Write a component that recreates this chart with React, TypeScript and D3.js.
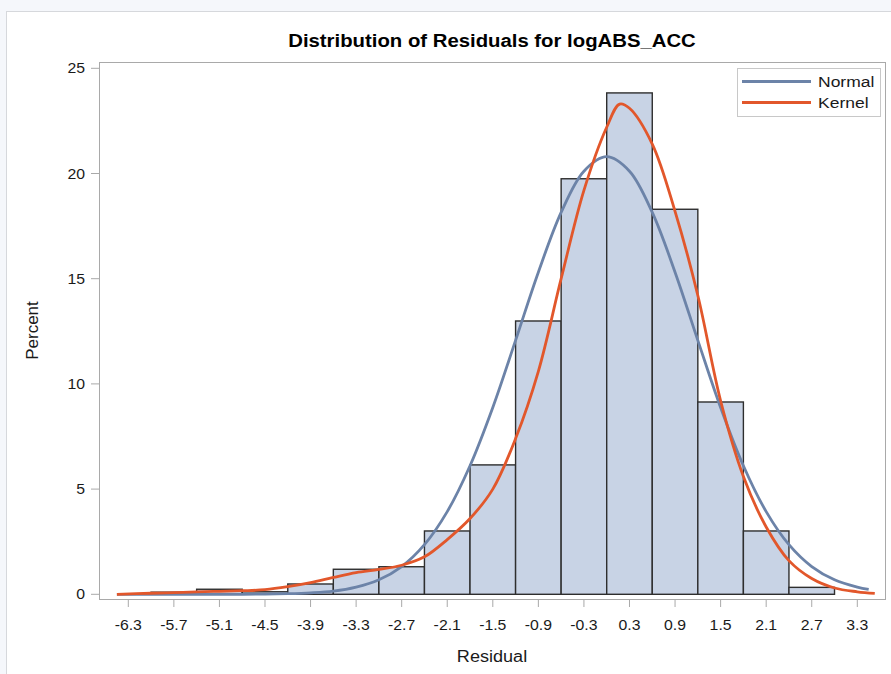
import React from "react";
import * as d3 from "d3";

// Histogram bins (midpoints) and their percentages
const binMids = [-5.7, -5.1, -4.5, -3.9, -3.3, -2.7, -2.1, -1.5, -0.9, -0.3, 0.3, 0.9, 1.5, 2.1, 2.7];
const binPct = [0.1, 0.24, 0.12, 0.49, 1.19, 1.31, 3.01, 6.15, 12.99, 19.75, 23.83, 18.3, 9.14, 3.01, 0.33];
const binWidth = 0.6;

// Fitted normal density, in percent per bin
const normalX = [-6.45, -5.4, -4.8, -4.5, -4.2, -3.9, -3.6, -3.3, -3.0, -2.7, -2.4, -2.1, -1.8, -1.5, -1.2, -0.9, -0.6, -0.3, 0.0, 0.3, 0.6, 0.9, 1.2, 1.5, 1.8, 2.1, 2.4, 2.7, 3.0, 3.3, 3.45];
const normalPct = [0.0, 0.0, 0.0, 0.01, 0.03, 0.07, 0.15, 0.34, 0.69, 1.32, 2.36, 3.93, 6.11, 8.88, 12.07, 15.31, 18.15, 20.11, 20.8, 20.11, 18.15, 15.31, 12.07, 8.88, 6.11, 3.93, 2.36, 1.32, 0.69, 0.34, 0.23];

// Kernel density estimate, in percent per bin
const kernelX = [-6.45, -6.0, -5.7, -5.4, -5.1, -4.8, -4.5, -4.2, -3.9, -3.6, -3.3, -3.0, -2.7, -2.4, -2.1, -1.8, -1.5, -1.2, -0.9, -0.6, -0.3, 0.0, 0.17, 0.3, 0.6, 0.9, 1.2, 1.5, 1.8, 2.1, 2.4, 2.7, 3.0, 3.3, 3.53];
const kernelPct = [0.0, 0.05, 0.08, 0.12, 0.14, 0.17, 0.22, 0.36, 0.55, 0.8, 1.03, 1.18, 1.38, 1.78, 2.6, 3.6, 5.0, 7.4, 10.6, 15.0, 19.2, 22.2, 23.3, 23.1, 21.4, 18.2, 14.2, 9.2, 5.6, 3.2, 1.6, 0.75, 0.3, 0.12, 0.04];

const xTicks = [-6.3, -5.7, -5.1, -4.5, -3.9, -3.3, -2.7, -2.1, -1.5, -0.9, -0.3, 0.3, 0.9, 1.5, 2.1, 2.7, 3.3];
const yTicks = [0, 5, 10, 15, 20, 25];

const legendItems = ["Normal", "Kernel"];

const W = 891;
const H = 674;
const frame = { left: 99, right: 885, top: 62, bottom: 599 };
const SX = 1.13; // horizontal text stretch

const FONT = "'Liberation Sans', Arial, sans-serif";
const NORMAL_COLOR = "#6c83a8";
const KERNEL_COLOR = "#e2572b";
const BAR_FILL = "#c8d3e5";
const AXIS_COLOR = "#a9a9a9";

function SText({ x, y, anchor = "middle", size = 14, weight = "normal", children, fill = "#1a1a1a" }: any) {
  return (
    <text
      transform={`translate(${x},${y}) scale(${SX},1)`}
      textAnchor={anchor}
      fontFamily={FONT}
      fontSize={size}
      fontWeight={weight}
      fill={fill}
    >
      {children}
    </text>
  );
}

export default function App() {
  const x = d3.scaleLinear().domain([-6.3, 3.3]).range([128.3, 857.3]);
  const y = d3.scaleLinear().domain([0, 25]).range([594.3, 68.3]);

  const normalLine = d3
    .line<number>()
    .x((_, i) => x(normalX[i]))
    .y((d) => y(d))
    .curve(d3.curveCatmullRom.alpha(0.5));
  const kernelLine = d3
    .line<number>()
    .x((_, i) => x(kernelX[i]))
    .y((d) => y(d))
    .curve(d3.curveCatmullRom.alpha(0.5));

  const cx = (frame.left + frame.right) / 2;

  return (
    <svg
      width={W}
      height={H}
      style={{ position: "absolute", left: 0, top: 0, display: "block" }}
    >
      {/* page backdrop and panel */}
      <rect x={0} y={0} width={W} height={H} fill="#f5f7fb" />
      <rect x={6.5} y={11.5} width={W} height={H} fill="#ffffff" stroke="#d6d8dc" strokeWidth={1} />

      {/* title */}
      <SText x={cx} y={47} size={18} weight="bold" fill="#000">
        Distribution of Residuals for logABS_ACC
      </SText>

      {/* bars */}
      <g>
        {binMids.map((m, i) => (
          <rect
            key={i}
            x={x(m - binWidth / 2)}
            y={y(binPct[i])}
            width={x(m + binWidth / 2) - x(m - binWidth / 2)}
            height={y(0) - y(binPct[i])}
            fill={BAR_FILL}
            stroke="#2e2e2e"
            strokeWidth={1.4}
          />
        ))}
      </g>

      {/* curves */}
      <path d={normalLine(normalPct) || ""} fill="none" stroke={NORMAL_COLOR} strokeWidth={2.8} />
      <path d={kernelLine(kernelPct) || ""} fill="none" stroke={KERNEL_COLOR} strokeWidth={2.8} />

      {/* frame */}
      <rect
        x={frame.left + 0.5}
        y={frame.top + 0.5}
        width={frame.right - frame.left}
        height={frame.bottom - frame.top}
        fill="none"
        stroke={AXIS_COLOR}
        strokeWidth={1}
      />

      {/* y axis */}
      {yTicks.map((t) => (
        <g key={t}>
          <line x1={91} x2={frame.left} y1={y(t)} y2={y(t)} stroke={AXIS_COLOR} strokeWidth={1} />
          <SText x={85} y={y(t) + 5} anchor="end" size={14}>
            {t}
          </SText>
        </g>
      ))}
      <text
        transform={`translate(38,${(frame.top + frame.bottom) / 2}) rotate(-90)`}
        textAnchor="middle"
        fontFamily={FONT}
        fontSize={17}
        fill="#1a1a1a"
      >
        Percent
      </text>

      {/* x axis */}
      {xTicks.map((t) => (
        <g key={t}>
          <line x1={x(t)} x2={x(t)} y1={frame.bottom + 0.5} y2={frame.bottom + 8} stroke={AXIS_COLOR} strokeWidth={1} />
          <SText x={x(t)} y={630} size={14}>
            {t.toFixed(1)}
          </SText>
        </g>
      ))}
      <SText x={cx} y={662} size={16}>
        Residual
      </SText>

      {/* legend */}
      <rect x={737.5} y={68.5} width={143} height={48} fill="#fff" stroke="#c8c8c8" strokeWidth={1} />
      {legendItems.map((name, i) => (
        <g key={name}>
          <line
            x1={742}
            x2={811}
            y1={81.5 + i * 21}
            y2={81.5 + i * 21}
            stroke={i === 0 ? NORMAL_COLOR : KERNEL_COLOR}
            strokeWidth={2.8}
          />
          <SText x={818} y={87 + i * 21} anchor="start" size={15.5}>
            {name}
          </SText>
        </g>
      ))}
    </svg>
  );
}
